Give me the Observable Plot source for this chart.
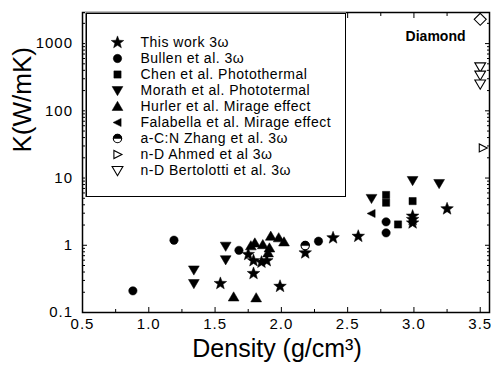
<!DOCTYPE html>
<html><head><meta charset="utf-8">
<script src="https://cdn.jsdelivr.net/npm/d3@7"></script>
<script src="https://cdn.jsdelivr.net/npm/@observablehq/plot@0.6"></script>
<style>
body{margin:0;background:#fff;}
#wrap{position:relative;width:491px;height:370px;background:#fff;}
#legend{position:absolute;left:85px;top:12px;}
g[aria-label="x-axis tick label"] text{letter-spacing:1px}
g[aria-label="y-axis tick label"] text{letter-spacing:1px}
#legend text{letter-spacing:0.5px}
</style></head><body><div id="wrap"><div id="main"></div><div id="legend"></div></div>
<script>
// ---- data ----
const seriesNames = [
  "This work 3ω",
  "Bullen et al. 3ω",
  "Chen et al. Photothermal",
  "Morath et al. Phototermal",
  "Hurler et al. Mirage effect",
  "Falabella et al. Mirage effect",
  "a-C:N Zhang et al. 3ω",
  "n-D Ahmed et al 3ω",
  "n-D Bertolotti et al. 3ω"
];
const thisWorkDensity = [1.54, 1.75, 1.79, 1.79, 1.85, 1.89, 1.99, 2.18, 2.39, 2.58, 2.99, 2.99, 2.99, 3.25];
const thisWorkK       = [0.27, 0.73, 0.38, 0.59, 0.56, 0.59, 0.245, 0.77, 1.29, 1.36, 2.71, 2.42, 2.15, 3.48];
const bullenDensity = [0.88, 1.19, 1.68, 2.28, 2.79, 2.79];
const bullenK       = [0.21, 1.19, 0.84, 1.15, 1.53, 2.23];
const chenDensity = [2.79, 2.79, 2.88, 2.99];
const chenK       = [4.3, 5.6, 2.04, 4.54];
const morathDensity = [1.34, 1.34, 1.58, 1.58, 2.68, 2.99, 3.19];
const morathK       = [0.43, 0.27, 0.97, 0.61, 4.98, 9.2, 8.3];
const hurlerDensity = [1.64, 1.81, 1.77, 1.80, 1.86, 1.92, 1.98, 2.02, 1.91, 1.90];
const hurlerK       = [0.17, 0.165, 0.98, 1.08, 1.02, 1.36, 1.29, 1.12, 0.91, 0.77];
const falabellaDensity = [2.68];
const falabellaK       = [2.97];
const zhangDensity = [2.18];
const zhangK       = [0.99];
const ahmedDensity = [3.52];
const ahmedK       = [28];
const bertolottiDensity = [3.5, 3.5, 3.5];
const bertolottiK       = [450, 340, 250];
const diamondDensity = [3.5];
const diamondK       = [2300];

const xMajor = [0.5, 1.0, 1.5, 2.0, 2.5, 3.0, 3.5];
const xTickLabels = ["0.5", "1.0", "1.5", "2.0", "2.5", "3.0", "3.5"];
const xMinor = [0.75, 1.25, 1.75, 2.25, 2.75, 3.25];
const yMajor = [0.1, 1, 10, 100, 1000];
const yTickLabels = ["0.1", "1", "10", "100", "1000"];
const yMinor = yMajor.flatMap(d => [2,3,4,5,6,7,8,9].map(m => m * d)).filter(v => v < 2900);

// ---- symbols ----
const mk = f => ({draw(ctx, size){ const r = Math.sqrt(size / Math.PI); f(ctx, r); }});
const poly = (c, pts) => { c.moveTo(pts[0][0], pts[0][1]); for (const p of pts.slice(1)) c.lineTo(p[0], p[1]); c.closePath(); };
const symStar = mk((c, r) => { const R = 1.65 * r, ri = R * 0.42, pts = [];
  for (let i = 0; i < 10; i++) { const a = -Math.PI / 2 + i * Math.PI / 5, rr = i % 2 ? ri : R; pts.push([rr * Math.cos(a), rr * Math.sin(a)]); }
  poly(c, pts); });
const symCircle = mk((c, r) => { const R = 1.05 * r; c.moveTo(R, 0); c.arc(0, 0, R, 0, 2 * Math.PI); });
const symSquare = mk((c, r) => { const h = 0.9 * r; poly(c, [[-h, -h], [h, -h], [h, h], [-h, h]]); });
const symDown = mk((c, r) => poly(c, [[-1.35 * r, -1.0 * r], [1.35 * r, -1.0 * r], [0, 1.3 * r]]));
const symUp = mk((c, r) => poly(c, [[-1.35 * r, 1.0 * r], [1.35 * r, 1.0 * r], [0, -1.3 * r]]));
const symLeft = mk((c, r) => poly(c, [[-1.1 * r, 0], [0.9 * r, -1.0 * r], [0.9 * r, 1.0 * r]]));
const symRight = mk((c, r) => poly(c, [[1.1 * r, 0], [-0.9 * r, -1.0 * r], [-0.9 * r, 1.0 * r]]));
const symDiamond = mk((c, r) => poly(c, [[0, -1.5 * r], [1.5 * r, 0], [0, 1.5 * r], [-1.5 * r, 0]]));
const symHalf = mk((c, r) => { const R = 1.05 * r; c.moveTo(-R, 0); c.arc(0, 0, R, Math.PI, 2 * Math.PI); c.closePath(); });

const table = (name, xs, ys) => xs.map((x, i) => ({series: name, density: x, K: ys[i]}));
const defs = [
  {name: seriesNames[0], rows: table(seriesNames[0], thisWorkDensity, thisWorkK), symbol: symStar, open: false},
  {name: seriesNames[1], rows: table(seriesNames[1], bullenDensity, bullenK), symbol: symCircle, open: false},
  {name: seriesNames[2], rows: table(seriesNames[2], chenDensity, chenK), symbol: symSquare, open: false},
  {name: seriesNames[3], rows: table(seriesNames[3], morathDensity, morathK), symbol: symDown, open: false},
  {name: seriesNames[4], rows: table(seriesNames[4], hurlerDensity, hurlerK), symbol: symUp, open: false},
  {name: seriesNames[5], rows: table(seriesNames[5], falabellaDensity, falabellaK), symbol: symLeft, open: false},
  {name: seriesNames[6], rows: table(seriesNames[6], zhangDensity, zhangK), symbol: symCircle, open: true, half: true},
  {name: seriesNames[7], rows: table(seriesNames[7], ahmedDensity, ahmedK), symbol: symRight, open: true},
  {name: seriesNames[8], rows: table(seriesNames[8], bertolottiDensity, bertolottiK), symbol: symDown, open: true},
  {name: "Diamond", rows: table("Diamond", diamondDensity, diamondK), symbol: symDiamond, open: true, noLegend: true}
];
const dotOpts = s => ({symbol: s.symbol, r: 4, fill: s.open ? "white" : "black", stroke: "black", strokeWidth: s.open ? 1.1 : 0.5});

const font = "'Liberation Sans', Arial, Helvetica, sans-serif";
const noText = () => "";

const main = Plot.plot({
  width: 491, height: 370,
  marginLeft: 82, marginRight: 2, marginTop: 12, marginBottom: 58,
  style: {fontFamily: font, fontSize: "15px", background: "white", color: "black"},
  x: {domain: [0.5, 3.57], label: null},
  y: {type: "log", domain: [0.1, 2900], label: null},
  marks: [
    Plot.frame({stroke: "black", strokeWidth: 1.5}),
    Plot.axisX({anchor: "bottom", ticks: xMajor, tickSize: -5, tickPadding: 11, tickFormat: d => xTickLabels[xMajor.indexOf(d)], label: null, fontSize: 15}),
    Plot.axisX({anchor: "bottom", ticks: xMinor, tickSize: -3, tickFormat: noText, label: null}),
    Plot.axisX({anchor: "top", ticks: xMajor, tickSize: -5, tickFormat: noText, label: null}),
    Plot.axisX({anchor: "top", ticks: xMinor, tickSize: -3, tickFormat: noText, label: null}),
    Plot.axisY({anchor: "left", ticks: yMajor, tickSize: -5, tickPadding: 14.5, tickFormat: d => yTickLabels[yMajor.indexOf(d)], label: null, fontSize: 15}),
    Plot.axisY({anchor: "left", ticks: yMinor, tickSize: -3, tickFormat: noText, label: null}),
    Plot.axisY({anchor: "right", ticks: yMajor, tickSize: -5, tickFormat: noText, label: null}),
    Plot.axisY({anchor: "right", ticks: yMinor, tickSize: -3, tickFormat: noText, label: null}),
    ...defs.map(s => Plot.dot(s.rows, {x: "density", y: "K", ...dotOpts(s)})),
    ...defs.filter(s => s.half).map(s => Plot.dot(s.rows, {x: "density", y: "K", symbol: symHalf, r: 4, fill: "black", stroke: "black", strokeWidth: 0.5})),
    Plot.text(["Density (g/cm³)"], {text: d => d, frameAnchor: "bottom", dx: -9, dy: 44, fontSize: 25}),
    Plot.text(["K(W/mK)"], {text: d => d, frameAnchor: "left", rotate: -90, dx: -60, dy: -10, fontSize: 26}),
    Plot.text(["Diamond"], {text: d => d, frameAnchor: "top-right", dx: -24, dy: 19, textAnchor: "end", fontWeight: "bold", fontSize: 14})
  ]
});
document.getElementById("main").appendChild(main);

const legendDefs = defs.filter(s => !s.noLegend);
const legend = Plot.plot({
  width: 261, height: 185, margin: 0,
  style: {fontFamily: font, fontSize: "14px", background: "white", color: "black"},
  y: {type: "point", domain: seriesNames, range: [19, 168], axis: null},
  marks: [
    Plot.frame({stroke: "black", strokeWidth: 1.5, inset: 0.75}),
    ...legendDefs.map(s => Plot.dot([s.name], {y: d => d, frameAnchor: "left", dx: 32, ...dotOpts(s)})),
    ...legendDefs.filter(s => s.half).map(s => Plot.dot([s.name], {y: d => d, frameAnchor: "left", dx: 32, symbol: symHalf, r: 4, fill: "black", stroke: "black", strokeWidth: 0.5})),
    Plot.text(seriesNames, {y: d => d, text: d => d, frameAnchor: "left", dx: 55, textAnchor: "start", fontSize: 14})
  ]
});
document.getElementById("legend").appendChild(legend);
</script>
</body></html>
